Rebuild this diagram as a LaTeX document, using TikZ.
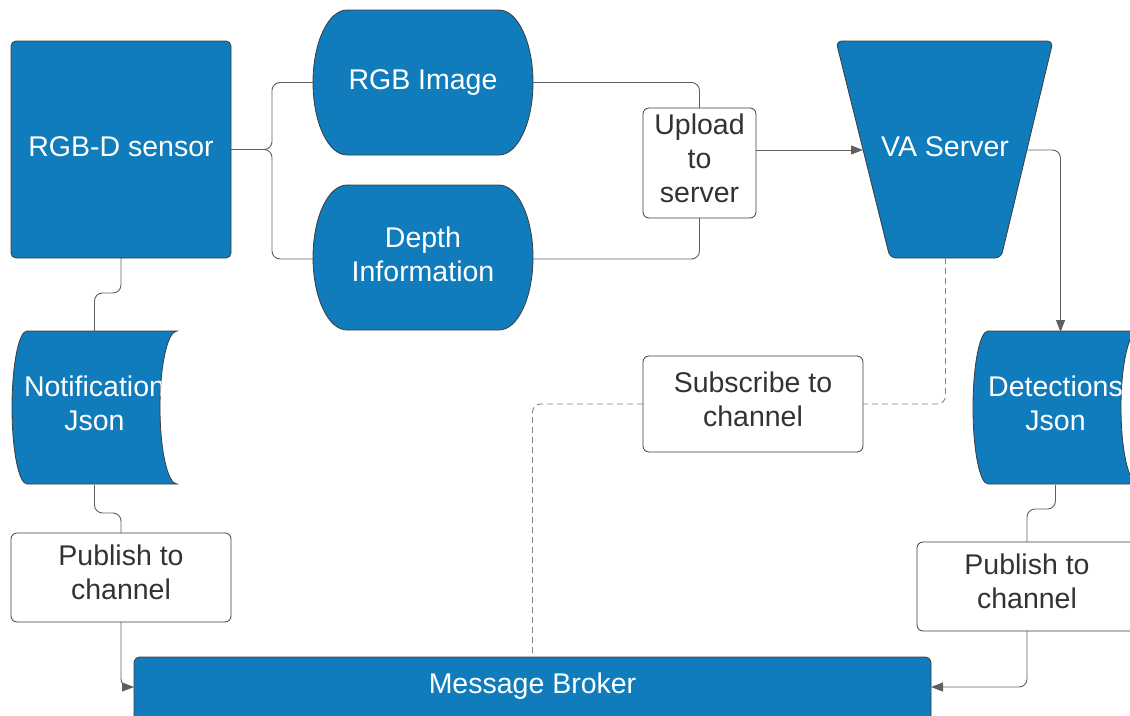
\documentclass[tikz,border=0pt]{standalone}
\usepackage{fontspec}
\setmainfont{Liberation Sans}
\usetikzlibrary{arrows.meta}
\definecolor{myblue}{RGB}{16,124,187}
\definecolor{bord}{RGB}{60,60,60}
\definecolor{txt}{RGB}{51,51,51}
\definecolor{lin}{RGB}{95,95,95}
\definecolor{dashcol}{RGB}{130,130,130}
\begin{document}
\begin{tikzpicture}[x=1pt,y=-1pt,
 every node/.style={font=\fontsize{28.5}{34}\selectfont, outer sep=0pt, inner sep=0pt, align=center},
 bluestrut/.style={execute at begin node=\strut, execute at end node=\strut},
 bluebox/.style={bluestrut, fill=myblue, draw=bord, line width=0.8pt, text=white, rounded corners=5},
 blueshape/.style={fill=myblue, draw=bord, line width=0.8pt},
 whitebox/.style={fill=white, draw=bord, line width=0.8pt, text=txt, rounded corners=6,
   execute at begin node={\rule{0pt}{27.8pt}}, execute at end node=\strut},
 bluetext/.style={bluestrut, text=white},
 conn/.style={draw=lin, line width=0.9pt, rounded corners=8},
 arr/.style={-{Triangle[length=12pt,width=9pt]}},
 dashconn/.style={draw=dashcol, line width=0.9pt, dash pattern=on 6pt off 4pt, rounded corners=8},
 stored/.style={insert path={(27,331) -- (177,331) .. controls (167.6,331) and (160,365.2) .. (160,407.5) .. controls (160,449.8) and (167.6,484) .. (177,484) -- (27,484) .. controls (18.7,484) and (12,449.8) .. (12,407.5) .. controls (12,365.2) and (18.7,331) .. (27,331) -- cycle}},
]
\clip (0,0) rectangle (1130,715);

% RGB-D sensor
\node[bluebox, minimum width=220, minimum height=217, anchor=north west] (sensor) at (11,41) {RGB-D sensor};

% RGB Image
\path[blueshape] (347,10) -- (499,10) .. controls (517.8,10) and (533,42.5) .. (533,82.5) .. controls (533,122.5) and (517.8,155) .. (499,155) -- (347,155) .. controls (328.2,155) and (313,122.5) .. (313,82.5) .. controls (313,42.5) and (328.2,10) .. (347,10) -- cycle;
\node[bluetext, minimum width=220, minimum height=145] (rgb) at (423,82.5) {RGB Image};

% Depth Information
\path[blueshape] (347,185) -- (499,185) .. controls (517.8,185) and (533,217.5) .. (533,257.5) .. controls (533,297.5) and (517.8,330) .. (499,330) -- (347,330) .. controls (328.2,330) and (313,297.5) .. (313,257.5) .. controls (313,217.5) and (328.2,185) .. (347,185) -- cycle;
\node[bluetext, minimum width=220, minimum height=145] (depth) at (423,259) {Depth\\Information};

% Upload
\node[whitebox, minimum width=113, minimum height=110, anchor=north west] (up) at (643,108) {Upload\\to\\server};

% VA Server
\path[blueshape, rounded corners=6] (836,41) -- (1053,41) -- (1001,258) -- (890,258) -- cycle;
\node[bluetext] (va) at (945,150) {VA Server};
\coordinate (vaL) at (863,150);
\coordinate (vaR) at (1027,150);
\coordinate (vaB) at (945.5,258);

% Notification Json
\path[blueshape, stored];
\begin{scope}
 \clip[stored];
 \node[bluetext, minimum width=165, minimum height=153] (notif) at (94.5,408.5) {Notification\\Json};
\end{scope}

% Detections Json
\begin{scope}[xshift=961pt]
 \path[blueshape, stored];
 \begin{scope}
  \clip[stored];
  \node[bluetext, minimum width=165, minimum height=153] (det) at (94.5,408.5) {Detections\\Json};
 \end{scope}
\end{scope}

% Subscribe
\node[whitebox, minimum width=220, minimum height=96, anchor=north west] (sub) at (643,356) {Subscribe to\\channel};

% Publish boxes
\node[whitebox, minimum width=220, minimum height=89, anchor=north west] (pubL) at (11,533) {Publish to\\channel};
\node[whitebox, minimum width=220, minimum height=89, anchor=north west] (pubR) at (917,542) {Publish to\\channel};

% Message Broker
\node[bluebox, rounded corners=6, minimum width=797, minimum height=80, anchor=north west] (mb) at (134,657) {};
\node[bluetext] (mbt) at (532.5,686.5) {Message Broker};
\coordinate (mbL) at (mb.west |- 0,687);
\coordinate (mbR) at (mb.east |- 0,687);

% connectors
\draw[conn] (sensor.east) -- ++(41,0) |- (rgb.west);
\draw[conn] (sensor.east) -- ++(41,0) |- (depth.west);
\draw[conn] (rgb.east) -| (up.north);
\draw[conn] (depth.east) -| (up.south);
\draw[conn, arr] (up.east |- vaL) -- (vaL);
\draw[conn, arr] (vaR) -| ([xshift=5pt]det.north);
\draw[dashconn] (vaB) |- (sub.east);
\draw[dashconn] (sub.west) -| (mb.north);
\draw[conn] (sensor.south) -- ++(0,35) -| (notif.north);
\draw[conn] (notif.south) -- ++(0,28) -| (pubL.north);
\draw[conn, arr] (pubL.south) |- (mbL);
\draw[conn] (det.south) -- ++(0,24) -| (pubR.north);
\draw[conn, arr] (pubR.south) |- (mbR);
\end{tikzpicture}
\end{document}
